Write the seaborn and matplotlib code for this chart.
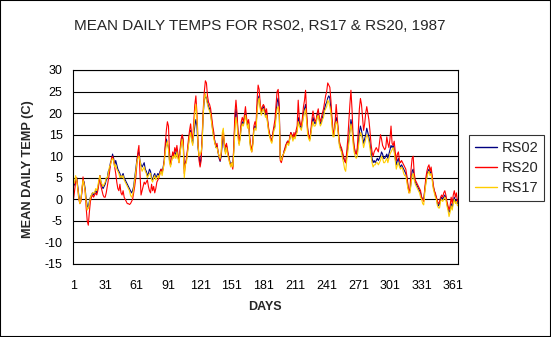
import numpy as np
import pandas as pd
import matplotlib
matplotlib.use("Agg")
import matplotlib.pyplot as plt
from matplotlib.patches import Rectangle
import seaborn as sns

title = "MEAN DAILY TEMPS FOR RS02, RS17 & RS20, 1987"
x_label = "DAYS"
y_label = "MEAN DAILY TEMP (C)"
stations = ["RS02", "RS20", "RS17"]
colors = ["#000080", "#FF0000", "#FFCC00"]
x_ticks = list(range(1, 366, 30))
y_ticks = list(range(-15, 31, 5))

rs02 = [
    3, 3.5, 4, 5, 3, 1, -0.5, 0, 2, 4.5,
    4, 2.5, 0, -1.5, -2, -0.5, 0.5, 1, 1.5, 1,
    1.5, 2, 1.5, 2.5, 4, 5.5, 4, 3, 2.5, 3,
    3.5, 4.5, 5, 6.5, 7, 8.5, 9, 10.5, 9.5, 8,
    9, 8, 7, 6.5, 6, 5, 5.5, 6, 5, 4.5,
    4, 3.5, 3, 2.5, 2, 1.5, 2, 3, 5, 7,
    9, 10.5, 11, 9, 8, 7.5, 8, 8.5, 7, 6.5,
    5.5, 6, 7, 6.5, 5, 4.5, 5.5, 6, 5, 5.5,
    6, 5.5, 6.5, 7, 6, 7.5, 9, 12, 14, 13,
    12, 9, 8, 9.5, 10.5, 10, 11, 10, 11.5, 10,
    9, 11, 13, 14.5, 13, 7, 8.5, 9, 11, 13,
    15, 16, 14, 13, 15, 17, 18.5, 17, 12, 10,
    8, 10, 14, 20, 23, 24, 23.5, 22.5, 21.5, 21,
    20, 18, 16, 14.5, 13.5, 12, 12.5, 11, 9.5, 8.8,
    10, 13, 15, 12, 11, 12.5, 11, 10, 9, 8,
    8.5, 7.5, 12, 18, 21, 19, 15, 13, 14.5, 17,
    18, 17.5, 18.5, 20, 18.5, 17, 18, 14, 12, 11.5,
    13, 16.5, 17, 16.5, 21, 23.5, 24, 21.5, 20, 21,
    21.5, 20.5, 19.5, 20, 18, 16, 15, 14, 13.5, 15,
    16.5, 17, 20, 22.5, 23.5, 21, 9.5, 9, 10, 10.5,
    11.5, 12, 13, 13.5, 13, 14, 15.5, 15, 14, 15,
    14.5, 15.5, 16, 19, 18, 17, 16.5, 18, 20, 21,
    22, 19, 16, 14.5, 14, 15.5, 17.5, 19, 18, 17.5,
    18, 19.5, 20, 18.5, 17.5, 18, 19, 20, 21, 22,
    22.5, 23.5, 24, 23.5, 21, 18, 15.5, 15, 17.5, 19,
    18, 15.5, 13, 12, 11.5, 10.5, 9.5, 9, 8.5, 10,
    12, 14, 16, 18.5, 17, 14, 12, 11, 10.5, 11,
    13, 15.5, 17, 16, 14.5, 13, 14, 15, 16.5, 15.5,
    14.5, 13, 11, 9.5, 8.5, 9, 8.5, 9, 9.5, 9,
    9.5, 10, 11, 10.5, 9.5, 9.5, 10, 10.5, 9.5, 10.5,
    11.5, 12.5, 12, 12.5, 11.5, 9.5, 8, 9, 9.5, 8,
    7.5, 8, 7.5, 7, 6.5, 6, 5, 3, 2, 2,
    4, 6.5, 7, 5, 4, 3.5, 3, 2.5, 2, 1.5,
    0.5, 0, 0, 2, 4, 5.5, 6.5, 7, 6, 6.5,
    5, 3, 2, 1, 0.5, -1, -1.5, -1, 0, 0.5,
    0, 0.5, 1, 0.5, -1, -2, -3, -2.5, -1, -2,
    -0.5, 0.5, -0.5, 0, -1,
]

rs20 = [
    0, 2, 4, 5, 2.5, 0, -1, -0.5, 2, 5.2,
    3.5, 2, -2, -5, -6, -3, -0.5, 0.5, 1, 0.5,
    1, 1.5, 1, 2, 3.5, 5.5, 3, 2, 1, 0.5,
    0.5, 1.5, 3, 4.5, 6, 8, 9.5, 10, 9, 7.5,
    6, 4, 2.5, 2, 3.5, 1.5, 1, 2, 0.5, 0,
    -0.5, -1, -1, -1.2, -1, -0.5, 0, 1.5, 3, 5,
    8, 11, 12.5, 6, 1, 2, 3, 4, 3.5, 4,
    4.5, 3, 2, 1.5, 3.5, 2, 3, 1.5, 2.5, 4,
    4.5, 5, 6, 7, 6.5, 7, 9, 13, 16, 18,
    17, 11, 8, 9, 11, 10, 12, 11, 12.5, 10.5,
    8.5, 11.5, 14, 15, 14, 6, 8, 9.5, 11.5, 14,
    16, 17.5, 15, 14, 18, 22, 24, 20, 14, 9,
    7.5, 9, 15, 21, 25, 27.5, 27, 24, 22.5, 22,
    21, 19, 17, 15.5, 13, 12.5, 13, 11, 10, 9,
    10.5, 14.5, 16, 13, 12, 13, 11.5, 10, 8.5, 8,
    8, 7, 13, 20, 23, 20, 15.5, 13, 15, 18,
    19, 18, 19.5, 21.5, 19, 17.5, 18.5, 14.5, 12.5, 11,
    13.5, 17, 18, 17, 23, 26.5, 25.5, 22, 20.5, 21.5,
    22, 21.5, 20, 21, 18.5, 16.5, 15, 14, 13.5, 15.5,
    17, 18.5, 22, 25, 25.5, 22, 9, 8.5, 9.5, 10.5,
    11.5, 12.5, 13, 13.5, 13, 14.5, 15.5, 15, 14, 15.5,
    14.5, 16, 17, 23, 19, 17.5, 17, 19, 21.5, 23,
    25.3, 20, 16.5, 14.5, 14, 16, 18.5, 20.5, 19, 18,
    18.5, 20, 21, 19, 18, 19, 20, 21, 22.5, 24,
    25, 27, 26.5, 26, 23, 19, 16, 15, 18, 22,
    19, 16, 13.5, 12.5, 12, 11, 10, 9, 8.5, 11,
    14, 18, 22, 25.3, 21, 15, 12.5, 11, 10.5, 12,
    16, 21, 23.4, 22, 19, 16, 17.5, 20, 21.5, 20,
    18.5, 16, 13, 11, 10, 11, 11.5, 12, 11.5, 11,
    13, 15, 14, 12.5, 12, 11.5, 12, 14.5, 13, 12,
    14, 17, 13, 12.5, 13.5, 11, 9, 10.5, 11, 9,
    8.5, 9, 8.5, 8, 7.5, 7, 5.5, 3.5, 1.5, 2.5,
    7, 9.5, 10, 6, 4.5, 4, 3.5, 3, 2.5, 2,
    0.5, 0, -0.5, 2.5, 5, 6.5, 7.5, 8, 6.5, 7.5,
    5.5, 3.5, 2, 1.5, 0.5, -0.5, -1, -0.5, 0.5, 1,
    0.5, 1.5, 2, 1, -0.5, -1.5, -2.5, -1.5, 0.5, -1,
    1, 2, 0.5, 1.5, -0.5,
]

rs17 = [
    3.5, 4, 5.5, 4.5, 2.5, 0.5, -1, 0, 2.5, 4.5,
    3.5, 2, -0.5, -2.5, -2, -1, 0.5, 1, 1.5, 1.5,
    1.5, 2.5, 2, 3, 4.5, 5.5, 4, 3.5, 3, 3.5,
    4, 5, 5, 6, 7.5, 8, 9, 9.5, 9, 7.5,
    8, 7, 6.5, 6, 5, 5.5, 5, 5.5, 4.5, 4,
    3.5, 3, 2.5, 2, 1, 0.5, 1, 2.5, 4.5, 6.5,
    8.5, 9.5, 10, 9, 7.5, 6.5, 7, 7.5, 6.5, 6,
    5, 5.5, 6, 6, 4.5, 4, 5, 5.5, 4.5, 5,
    5.5, 5, 6, 6.5, 5.5, 7, 8.5, 11, 12.5, 13.5,
    11.5, 8.5, 7.5, 9, 10, 9.5, 10.5, 9.5, 11, 9.5,
    8.5, 10.5, 12.5, 14, 12, 5, 8, 8.5, 10.5, 12.5,
    14.5, 15.5, 13.5, 12.5, 16, 20, 22, 19, 12.5, 10,
    10.5, 11, 13, 20, 23.5, 24.5, 23, 22, 21, 20.5,
    19.5, 17.5, 15.5, 14, 13, 12, 12, 11, 10, 9.5,
    11, 15.5, 16.5, 12.5, 10.5, 12, 10.5, 9.5, 8.5, 7.5,
    8.5, 7.5, 11, 16, 19, 17.5, 14, 12.5, 14, 16.5,
    17.5, 17, 18, 19.5, 18, 16.5, 17.5, 13.5, 11.5, 11,
    12.5, 16, 16.5, 16, 20, 22.5, 23.5, 21, 19.5, 20.5,
    21, 20, 19, 19.5, 17.5, 15.5, 14.5, 13.5, 13, 14.5,
    16, 16.5, 19, 21, 21.5, 20, 9.5, 9, 10, 10.5,
    11, 11.5, 12.5, 13, 12.5, 14, 15, 14.5, 13.5, 14.5,
    14, 15, 15.5, 18, 17, 16.5, 16, 17.5, 19, 20,
    21, 18, 15, 14, 13.5, 15, 17, 18, 17, 17,
    17.5, 19, 19.5, 18, 17, 17.5, 18.5, 19, 20.5, 21,
    21.5, 23, 22.5, 21.5, 20, 17, 14.5, 14.5, 17, 18,
    17.5, 15, 12.5, 11.5, 11, 9.5, 8.5, 7, 6.5, 9,
    11, 13, 15.5, 17.5, 16, 13, 11, 10, 9.5, 10,
    12, 14, 15.5, 15, 13.5, 12, 13, 14, 15, 14.5,
    13.5, 12, 10, 8.5, 7.5, 8, 8, 8.5, 8.5, 8,
    8.5, 9, 10, 9.5, 8.5, 8.5, 9, 9.5, 8.5, 9.5,
    10.5, 11, 11.5, 12, 11, 9, 7, 8, 8.5, 7.5,
    7, 7.5, 7, 6, 5.5, 5.5, 4, 2.5, 1.5, 1.5,
    3.5, 5.5, 6, 4.5, 3.5, 3, 2.5, 2, 1.5, 0.5,
    0, -1, -1.3, 1.5, 3.5, 5, 6, 6.5, 5.5, 6,
    4.5, 2.5, 1.5, 0.5, 0, -1.5, -2, -2, -0.5, 0,
    -0.5, 0, 0.5, 0, -1.5, -2.5, -4, -3, -1.5, -2.5,
    -1, 0, -1, -0.5, -1.5,
]

days = list(range(1, len(rs02) + 1))

df = pd.concat([
    pd.DataFrame({"day": days, "temp": rs02, "station": "RS02"}),
    pd.DataFrame({"day": days, "temp": rs20, "station": "RS20"}),
    pd.DataFrame({"day": days, "temp": rs17, "station": "RS17"}),
], ignore_index=True)

sns.set_theme(style="white")
plt.rcParams["font.family"] = ["Liberation Sans", "DejaVu Sans"]
plt.rcParams["axes.unicode_minus"] = False

W, H = 551, 337
fig = plt.figure(figsize=(W / 100, H / 100), dpi=100, facecolor="white")
ax = fig.add_axes([73 / W, 1 - 264 / H, (458 - 73) / W, (264 - 70) / H])

sns.lineplot(data=df, x="day", y="temp", hue="station", hue_order=stations,
             palette=colors, estimator=None, linewidth=0.8, ax=ax, legend=True)

ax.set_xlim(0.5, 365.5)
ax.set_ylim(-15, 30)
ax.set_xticks(x_ticks)
ax.set_yticks(y_ticks)
ax.set_xticklabels([str(t) for t in x_ticks], fontsize=9)
ax.set_yticklabels([str(t) for t in y_ticks], fontsize=9)
ax.tick_params(axis="both", direction="out", length=3.5, width=0.8,
               color="black", pad=4, labelcolor="black")
ax.tick_params(axis="x", pad=8)
ax.grid(axis="y", color="black", linewidth=0.8)
ax.grid(axis="x", visible=False)
ax.set_axisbelow(True)
for s in ax.spines.values():
    s.set_color("black")
    s.set_linewidth(0.8)

ax.set_xlabel("")
ax.set_ylabel("")
fig.text(265 / W, 1 - 307 / H, x_label, ha="center", va="center",
         fontsize=9, fontweight="bold")
fig.text(28 / W, 1 - 169 / H, y_label, ha="center", va="center",
         rotation=90, fontsize=9.2, fontweight="bold")
fig.text(260 / W, 1 - 26 / H, title, ha="center", va="center", fontsize=11)

handles, labels = ax.get_legend_handles_labels()
if ax.legend_:
    ax.legend_.remove()
leg = fig.legend(handles, labels, loc="upper left",
                 bbox_to_anchor=(469 / W, 1 - 135 / H),
                 frameon=True, fancybox=False, edgecolor="black",
                 fontsize=10.5, handlelength=1.5, handletextpad=0.35,
                 labelspacing=0.42, borderpad=0.4, borderaxespad=0)
leg.get_frame().set_linewidth(0.8)
for l in leg.get_lines():
    l.set_linewidth(1.0)

fig.patches.append(Rectangle((0, 0), 1, 1, transform=fig.transFigure,
                             fill=False, edgecolor="black", linewidth=1.5))

fig.savefig("out.png", dpi=100, facecolor="white")
